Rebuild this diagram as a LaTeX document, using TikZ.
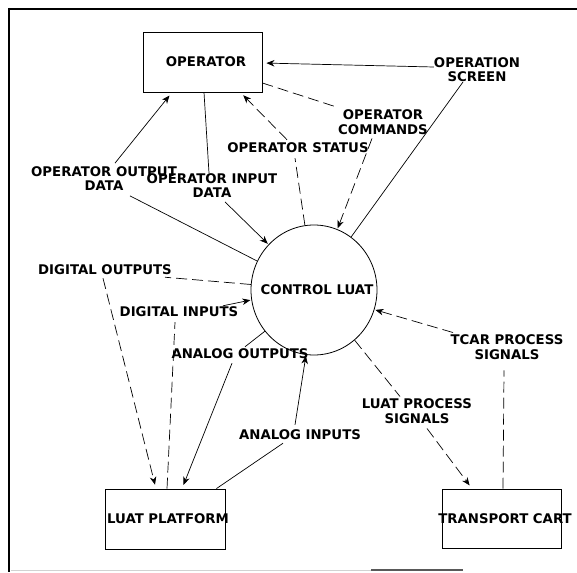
\documentclass[tikz,border=0pt]{standalone}
\usepackage{fontspec}
\setmainfont{DejaVu Sans}
\usetikzlibrary{shapes.geometric,arrows.meta,calc}

\begin{document}
\begin{tikzpicture}[x=1pt,y=-1pt,
  every node/.style={font=\fontsize{13.3}{14.5}\selectfont\bfseries},
  lbl/.style={inner sep=0pt,align=center},
  box/.style={draw,line width=0.8pt,minimum width=119pt,minimum height=60pt,inner sep=0pt},
  proc/.style={draw,ellipse,line width=0.8pt,minimum width=126pt,minimum height=130pt,inner sep=0pt},
  flow/.style={line width=0.7pt},
  dflow/.style={flow,dash pattern=on 11pt off 5pt},
  tip/.style={-{Stealth[length=8pt,width=6.5pt,inset=2.5pt]},shorten >=1pt},
  tipgap/.style={tip,shorten >=4pt}
]
% page and frame
\fill[white] (0,0) rectangle (577,572);
\useasboundingbox (0,0) rectangle (577,572);
\draw[line width=1.4pt] (9,9) -- (577,9);
\draw[line width=2.4pt] (9,8) -- (9,572);
\draw[gray!35,line width=1pt] (11,570) -- (463,570);
\draw[gray!70!black,line width=1.2pt] (371,570) -- (463,570);

% external entities and the process
\node[box] (op) at (202.5,62) {\makebox[0pt]{\hspace{7pt}OPERATOR}};
\node[box,minimum width=120pt] (lp) at (165,519) {\makebox[0pt]{\hspace{6pt}LUAT PLATFORM}};
\node[box,minimum height=59pt] (tc) at (501.5,518.5) {\makebox[0pt]{\hspace{7pt}TRANSPORT CART}};
\node[proc] (c) at (314,290) {\makebox[0pt]{\hspace{6pt}CONTROL LUAT}};

% flow labels
\node[lbl] (os)  at (477,69.5) {OPERATION\\SCREEN};
\node[lbl] (oc)  at (383,122)  {OPERATOR\\COMMANDS};
\node[lbl] (ost) at (298,148)  {OPERATOR STATUS};
\node[lbl] (ood) at (104,178.5) {OPERATOR OUTPUT\\DATA};
\node[lbl] (oid) at (212,185.5) {OPERATOR INPUT\\DATA};
\node[lbl] (dout) at (105,270) {DIGITAL OUTPUTS};
\node[lbl] (din) at (179,312)  {DIGITAL INPUTS};
\node[lbl] (aout) at (240,354) {ANALOG OUTPUTS};
\node[lbl] (ain) at (300,435)  {ANALOG INPUTS};
\node[lbl] (lps) at (417,411)  {LUAT PROCESS\\SIGNALS};
\node[lbl] (tps) at (507,347)  {TCAR PROCESS\\SIGNALS};

% operator flows
\draw[flow,tipgap] ([yshift=2.5pt]os.west) -- ([yshift=-1pt]op.east);
\draw[flow] ([xshift=-14pt]os.south) -- (c.55);
\draw[dflow] ([yshift=-21pt]op.east) -- ([xshift=-48pt,yshift=3pt]oc.north);
\draw[dflow,tip] ([xshift=-11pt,yshift=-4pt]oc.south) -- (c.69);
\draw[dflow] (c.98) -- ([xshift=-3pt,yshift=-5pt]ost.south);
\draw[dflow,tipgap] ([xshift=-11pt,yshift=3pt]ost.north) -- ([xshift=-22pt]op.south east);
\draw[flow] (c.153) -- ([xshift=26pt,yshift=-5pt]ood.south);
\draw[flow,tipgap] ([xshift=11pt,yshift=3pt]ood.north) -- ([xshift=-30.5pt]op.south);
\draw[flow] ([xshift=1.5pt]op.south) -- ([xshift=-3pt]oid.north);
\draw[flow,tip] ([xshift=13pt,yshift=-4pt]oid.south) -- (c.135);

% platform flows
\draw[dflow] (c.175) -- ([xshift=60pt,yshift=-2pt]dout.south);
\draw[dflow,tipgap] ([xshift=-2pt,yshift=-3pt]dout.south) -- ([xshift=-9pt]lp.north);
\draw[dflow] ([xshift=2pt]lp.north) -- ([xshift=-4pt,yshift=-5pt]din.south);
\draw[flow,tip] ([xshift=44pt,yshift=1pt]din.north) -- (c.189);
\draw[flow] (c.220) -- ([xshift=5pt,yshift=2pt]aout.north);
\draw[flow,tipgap] ([xshift=-8pt,yshift=-4pt]aout.south) -- ([xshift=17pt]lp.north);
\draw[flow] ([xshift=-9pt]lp.north east) -- ([xshift=-17pt,yshift=-3pt]ain.south);
\draw[flow,tip] ([xshift=-5pt,yshift=5pt]ain.north) -- (c.263);

% transport cart flows
\draw[dflow] (c.309) -- ([xshift=-17pt,yshift=2pt]lps.north);
\draw[dflow,tipgap] ([xshift=10pt,yshift=-5pt]lps.south) -- ([xshift=-29.5pt]tc.north);
\draw[dflow] ([xshift=1.5pt]tc.north) -- ([xshift=-3pt,yshift=-11pt]tps.south);
\draw[dflow,tip] ([xshift=-54pt,yshift=2pt]tps.north) -- (c.342);
\end{tikzpicture}
\end{document}
